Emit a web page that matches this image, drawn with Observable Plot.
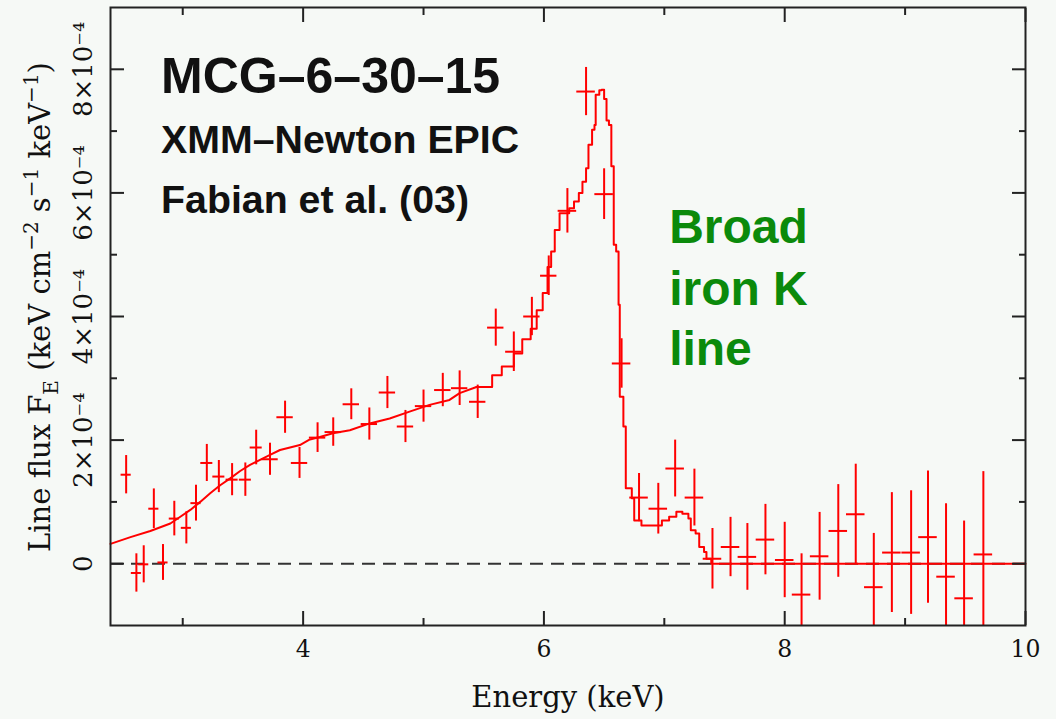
<!DOCTYPE html>
<html><head><meta charset="utf-8">
<script src="https://cdn.jsdelivr.net/npm/d3@7"></script>
<script src="https://cdn.jsdelivr.net/npm/@observablehq/plot@0.6"></script>
<style>
html,body{margin:0;padding:0;background:#f6f9f6;}
#chart svg{display:block;}
</style></head><body><div id="chart"></div>
<script>
// Data points (energy in keV, flux in units of 1e-4 keV cm^-2 s^-1 keV^-1)
const energy = [2.53,2.615,2.676,2.76,2.836,2.93,3.03,3.11,3.20,3.30,3.41,3.52,3.61,3.725,3.85,3.97,4.12,4.25,4.40,4.55,4.70,4.85,5.00,5.16,5.30,5.45,5.60,5.75,5.90,6.04,6.195,6.35,6.50,6.645,6.79,6.95,7.09,7.25,7.40,7.55,7.69,7.84,8.00,8.14,8.29,8.445,8.59,8.74,8.89,9.05,9.19,9.34,9.49,9.65];
const energyErr = [0.042,0.042,0.042,0.042,0.042,0.042,0.042,0.042,0.05,0.05,0.05,0.05,0.05,0.068,0.068,0.068,0.068,0.068,0.068,0.068,0.068,0.068,0.068,0.068,0.068,0.068,0.068,0.068,0.068,0.068,0.077,0.077,0.077,0.077,0.077,0.077,0.077,0.077,0.077,0.077,0.077,0.077,0.077,0.077,0.077,0.077,0.077,0.077,0.077,0.077,0.077,0.077,0.077,0.077];
const fluxE4 = [1.44,-0.15,-0.01,0.89,0.02,0.73,0.58,0.98,1.63,1.41,1.36,1.36,1.88,1.69,2.37,1.63,2.04,2.13,2.58,2.26,2.77,2.22,2.55,2.81,2.84,2.62,3.82,3.43,4.00,4.66,5.71,7.64,5.98,3.24,1.07,0.89,1.54,1.07,0.08,0.27,0.11,0.39,0.06,-0.50,0.12,0.53,0.80,-0.38,0.18,0.18,0.43,-0.21,-0.56,0.15];
const fluxErrE4 = [0.31,0.31,0.30,0.32,0.29,0.28,0.26,0.29,0.30,0.26,0.26,0.27,0.28,0.26,0.26,0.25,0.24,0.23,0.25,0.26,0.26,0.26,0.26,0.27,0.28,0.27,0.30,0.32,0.31,0.32,0.36,0.39,0.41,0.40,0.39,0.41,0.46,0.46,0.49,0.48,0.54,0.57,0.61,0.66,0.71,0.75,0.81,0.87,0.97,1.0,1.07,1.18,1.25,1.34];

// Model: smooth continuum part, then the stepped line-profile part
const modelSmoothEnergy = [2.40,2.566,2.731,2.897,2.98,3.063,3.145,3.228,3.311,3.394,3.477,3.559,3.642,3.725,3.808,3.891,3.973,4.056,4.139,4.247,4.388,4.553,4.719,4.884,5.05,5.216,5.30,5.44];
const modelSmoothFluxE4 = [0.32,0.43,0.53,0.65,0.76,0.87,1.00,1.14,1.27,1.38,1.50,1.60,1.68,1.76,1.84,1.88,1.92,2.01,2.05,2.11,2.16,2.27,2.35,2.46,2.57,2.65,2.76,2.86];
const modelStepEnergy = [5.44,5.57,5.65,5.75,5.82,5.89,5.94,5.99,6.03,6.06,6.09,6.13,6.21,6.25,6.29,6.32,6.35,6.37,6.40,6.42,6.43,6.46,6.48,6.50,6.52,6.54,6.56,6.58,6.60,6.62,6.63,6.66,6.68,6.73,6.75,6.81,6.94,6.98,7.04,7.10,7.15,7.20,7.22,7.26,7.29,7.33,7.35,7.39,10.0];
const modelStepFluxE4 = [2.86,3.05,3.19,3.40,3.63,3.80,4.10,4.38,4.80,5.05,5.40,5.67,5.75,5.86,6.00,6.18,6.40,6.78,7.02,7.10,7.59,7.66,7.67,7.52,7.17,7.10,6.43,5.16,5.05,4.19,2.70,2.22,1.22,1.06,0.70,0.62,0.62,0.70,0.76,0.84,0.81,0.73,0.54,0.49,0.27,0.19,0.08,0.0,0.0];

const xMajorTicks = [4,6,8,10];
const xMinorTicks = [3,5,7,9];
const yMajorTicks = [0,2,4,6,8];
const yMinorTicks = [1,3,5,7];
const yTickLabels = ["0","2×10⁻⁴","4×10⁻⁴","6×10⁻⁴","8×10⁻⁴"];

const infoLines = ["MCG–6–30–15","XMM–Newton EPIC","Fabian et al. (03)"];
const infoSizes = [50,39.3,39.3];
const infoX = [2.82,2.82,2.82];
const infoY = [7.62,6.65,5.68];
const lineLabel = ["Broad","iron K","line"];
const lineLabelX = [7.04,7.04,7.04];
const lineLabelY = [5.19,4.19,3.21];

const points = energy.map((e,i)=>({e, f: fluxE4[i], fe: fluxErrE4[i], ee: energyErr[i]}));
const modelSmooth = modelSmoothEnergy.map((e,i)=>({e, f: modelSmoothFluxE4[i]}));
const modelStep = modelStepEnergy.map((e,i)=>({e, f: modelStepFluxE4[i]}));
const info = infoLines.map((t,i)=>({t, s: infoSizes[i], x: infoX[i], y: infoY[i]}));
const green = lineLabel.map((t,i)=>({t, x: lineLabelX[i], y: lineLabelY[i]}));

const axisColor = "#222";
const serif = "DejaVu Serif";
const tickOpts = {stroke: axisColor, strokeWidth: 2, tickFormat: () => "", label: null};

const plot = Plot.plot({
  width: 1056, height: 719,
  marginLeft: 110, marginRight: 31, marginTop: 7, marginBottom: 94,
  style: {background: "#f6f9f6", color: "#111", fontFamily: serif, overflow: "visible"},
  x: {domain: [2.4, 10]},
  y: {domain: [-1, 9]},
  marks: [
    Plot.ruleY([0], {stroke: "#333", strokeWidth: 2, strokeDasharray: "13,8"}),
    Plot.line(modelSmooth, {x: "e", y: "f", curve: "linear", stroke: "#ff0000", strokeWidth: 2}),
    Plot.line(modelStep, {x: "e", y: "f", curve: "step-after", stroke: "#ff0000", strokeWidth: 2}),
    Plot.ruleX(points, {x: "e", y1: d => d.f - d.fe, y2: d => d.f + d.fe, stroke: "#ff0000", strokeWidth: 2, clip: true}),
    Plot.ruleY(points, {y: "f", x1: d => d.e - d.ee, x2: d => d.e + d.ee, stroke: "#ff0000", strokeWidth: 2, clip: true}),
    Plot.frame({stroke: axisColor, strokeWidth: 2}),
    Plot.axisX(xMajorTicks, {anchor: "bottom", tickSize: -14, ...tickOpts}),
    Plot.axisX(xMinorTicks, {anchor: "bottom", tickSize: -7, ...tickOpts}),
    Plot.axisX(xMajorTicks, {anchor: "top", tickSize: -14, ...tickOpts}),
    Plot.axisX(xMinorTicks, {anchor: "top", tickSize: -7, ...tickOpts}),
    Plot.axisY(yMajorTicks, {anchor: "left", tickSize: -14, ...tickOpts}),
    Plot.axisY(yMinorTicks, {anchor: "left", tickSize: -7, ...tickOpts}),
    Plot.axisY(yMajorTicks, {anchor: "right", tickSize: -14, ...tickOpts}),
    Plot.axisY(yMinorTicks, {anchor: "right", tickSize: -7, ...tickOpts}),
    Plot.axisX(xMajorTicks, {anchor: "bottom", tickSize: 0, tickPadding: 15, fontSize: 23.5, fontFamily: serif, tickFormat: d => String(d), label: null}),
    Plot.axisY(yMajorTicks, {anchor: "left", tickSize: 0, tickPadding: 19, tickRotate: -90, fontSize: 26, fontFamily: serif, tickFormat: d => yTickLabels[yMajorTicks.indexOf(d)], label: null}),
    Plot.text(["Energy (keV)"], {frameAnchor: "bottom", dy: 81, lineAnchor: "bottom", fontSize: 29, fontFamily: serif, fill: "#111"}),
    Plot.text(info, {x: "x", y: "y", text: "t", fontSize: "s", fontWeight: "bold", fontFamily: "Liberation Sans", textAnchor: "start", lineAnchor: "bottom", fill: "#111"}),
    Plot.text(green, {x: "x", y: "y", text: "t", fontSize: 48, fontWeight: "bold", fontFamily: "Liberation Sans", textAnchor: "start", lineAnchor: "bottom", fill: "#0b8a0b"})
  ]
});
document.getElementById("chart").appendChild(plot);

// Y-axis title with sub/superscripts
const svg = d3.select(plot);
const t = svg.append("text")
  .attr("transform", "translate(50,307) rotate(-90)")
  .attr("text-anchor", "middle")
  .attr("font-family", serif).attr("font-size", 29).attr("fill", "#111");
const parts = [
  ["Line flux F", 0, null], ["E", 8, 20], [" (keV cm", -8, null], ["−2", -12, 20], [" s", 12, null],
  ["−1", -12, 20], [" keV", 12, null], ["−1", -12, 20], [")", 12, null]
];
parts.forEach(([txt, dy, fs]) => {
  const s = t.append("tspan").attr("dy", dy).text(txt);
  if (fs) s.attr("font-size", fs);
});
</script></body></html>
